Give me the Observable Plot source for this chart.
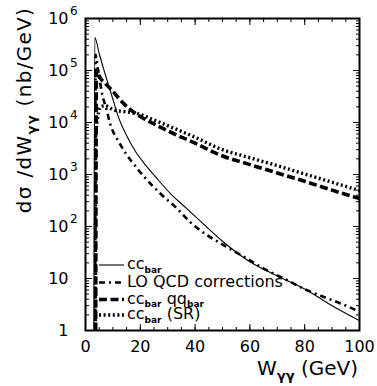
<!DOCTYPE html>
<html><head><meta charset="utf-8">
<script src="https://cdn.jsdelivr.net/npm/d3@7"></script>
<script src="https://cdn.jsdelivr.net/npm/@observablehq/plot@0.6"></script>
<style>html,body{margin:0;padding:0;background:#fff}svg{display:block}</style>
</head><body><div id="chart"></div>
<script>
// ---- data (W_gamma-gamma in GeV, dsigma/dW in nb/GeV) ----
const W_cc = [3.05, 3.4, 5, 7.3, 10, 12.2, 15, 18.2, 22, 25.5, 31, 36, 43, 50, 60, 70, 80, 90, 100];
const V_cc = [1, 4.3e5, 2.1e5, 8.1e4, 2.8e4, 1.2e4, 5.6e3, 2.8e3, 1.5e3, 910, 430, 245, 112, 52, 21, 11.2, 6.3, 3.0, 1.55];

const W_lo = [3.55, 3.7, 4.5, 6.1, 7.5, 9.1, 12.2, 14.6, 17, 21.5, 27.4, 33.5, 38.3, 44.4, 51.7, 59, 65, 72.4, 79, 86, 92, 100];
const V_lo = [1, 2e5, 1.1e5, 3.5e4, 1.9e4, 9.1e3, 4.2e3, 2.6e3, 1.74e3, 890, 427, 219, 120, 68, 40, 24, 15.5, 10, 6.6, 4.6, 3.5, 2.3];

const W_qq = [3.7, 4.0, 4.4, 5.0, 7.3, 10, 12.2, 15.2, 19.5, 24, 30, 40, 49.3, 60, 70, 80, 90, 100];
const V_qq = [1, 9e4, 1.0e5, 7.9e4, 5.6e4, 4.0e4, 2.9e4, 2.0e4, 1.35e4, 1.0e4, 6.9e3, 4.0e3, 2.35e3, 1.55e3, 1.07e3, 740, 500, 345];

const W_sr = [3.6, 3.7, 4.5, 5.5, 7.0, 10.3, 15, 19, 25, 30, 40, 49.3, 60, 70, 80, 90, 100];
const V_sr = [1, 5e3, 1.3e4, 2.0e4, 2.1e4, 1.75e4, 1.6e4, 1.48e4, 1.12e4, 8.7e3, 5.2e3, 3.1e3, 2.1e3, 1.48e3, 1.02e3, 710, 490];

const xMajor = [0, 20, 40, 60, 80, 100];
const xMinor = d3.range(0, 101, 5);
const yMajor = [1, 10, 100, 1e3, 1e4, 1e5, 1e6];
const yMinor = d3.range(0, 6).flatMap(e => d3.range(2, 10).map(m => m * 10 ** e));

const legendItems = [
  {key: "cc", parts: [["cc"], ["bar", "sub"]]},
  {key: "lo", parts: [["LO QCD corrections"]]},
  {key: "qq", parts: [["cc"], ["bar", "sub"], [" qq"], ["bar", "sub"]]},
  {key: "sr", parts: [["cc"], ["bar", "sub"], [" (SR)"]]}
];

const styles = {
  cc: {strokeWidth: 1.1, dash: null},
  lo: {strokeWidth: 2.6, dash: "6,4,2,4"},
  qq: {strokeWidth: 3.6, dash: "8,3.5"},
  sr: {strokeWidth: 3.4, dash: "2,2.6"}
};

const rows = (W, V, key) => W.map((w, i) => ({W: w, V: V[i], key}));
const line = (W, V, key) => Plot.lineY(rows(W, V, key), {
  x: "W", y: "V", stroke: "#000", strokeWidth: styles[key].strokeWidth,
  strokeDasharray: styles[key].dash, strokeLinecap: "butt", strokeLinejoin: "round",
  curve: "monotone-x", clip: true
});

// inward ticks: direction given by the opposite anchor, placed on the frame edge
const inTicksX = (ticks, edge, size) => Plot.axisX({
  ticks, anchor: edge === "bottom" ? "top" : "bottom", frameAnchor: edge,
  tickSize: size, fill: "none", label: null, strokeLinecap: "butt"
});
const inTicksY = (ticks, edge, size) => Plot.axisY({
  ticks, anchor: edge === "left" ? "right" : "left", frameAnchor: edge,
  tickSize: size, fill: "none", label: null, strokeLinecap: "butt"
});

const chart = Plot.plot({
  width: 377, height: 386,
  marginLeft: 85, marginRight: 18, marginTop: 18, marginBottom: 56,
  style: {fontFamily: "'DejaVu Sans', sans-serif", fontSize: "16px", color: "#000", background: "#fff", overflow: "visible"},
  x: {domain: [0, 100]},
  y: {type: "log", domain: [1, 1e6]},
  marks: [
    line(W_cc, V_cc, "cc"),
    line(W_lo, V_lo, "lo"),
    line(W_qq, V_qq, "qq"),
    line(W_sr, V_sr, "sr"),
    inTicksX(xMinor, "bottom", 4),
    inTicksX(xMajor, "bottom", 7),
    inTicksX(xMinor, "top", 4),
    inTicksX(xMajor, "top", 7),
    inTicksY(yMinor, "left", 3),
    inTicksY(yMajor, "left", 6),
    inTicksY(yMinor, "right", 3),
    inTicksY(yMajor, "right", 6),
    Plot.axisX({ticks: xMajor, anchor: "bottom", tickSize: 0, tickPadding: 10, label: null, fontSize: 16}),
    Plot.axisY({ticks: yMajor, anchor: "left", tickSize: 0, tickPadding: 17, label: null, fontSize: 16,
      tickFormat: d => d >= 100 ? "10" : String(d)}),
    Plot.axisY({ticks: yMajor.filter(d => d >= 100), anchor: "left", tickSize: 0, tickPadding: 15.5,
      textAnchor: "start", dy: -7, fontSize: 12, label: null,
      tickFormat: d => String(Math.round(Math.log10(d)))}),
    Plot.frame({stroke: "#000", strokeWidth: 2})
  ]
});
document.getElementById("chart").appendChild(chart);

// ---- text with subscripts ----
function richText(sel, parts, subSize, subShift, subBold) {
  let shift = 0;
  for (const [s, type] of parts) {
    const t = sel.append("tspan").text(s);
    if (type === "sub") {
      t.attr("font-size", subSize).attr("dy", subShift - shift);
      if (subBold) t.attr("font-weight", "bold");
      shift = subShift;
    } else {
      t.attr("dy", -shift);
      shift = 0;
    }
  }
}

const svg = d3.select(chart);
const fontFam = "'DejaVu Sans', sans-serif";

// y label
const yl = svg.append("text")
  .attr("transform", "translate(31,110) rotate(-90)")
  .attr("text-anchor", "middle").attr("font-family", fontFam)
  .attr("font-size", 20).attr("letter-spacing", 1.3).attr("fill", "#000");
richText(yl, [["dσ /dW"], ["γγ", "sub"], [" (nb/GeV)"]], 13, 5, true);

// x label
const xl = svg.append("text")
  .attr("x", 358).attr("y", 375)
  .attr("text-anchor", "end").attr("font-family", fontFam)
  .attr("font-size", 20).attr("fill", "#000");
richText(xl, [["W"], ["γγ", "sub"], [" (GeV)"]], 13, 5, true);

// legend
const legY = [265, 282.5, 299.5, 315];
const lg = svg.append("g").attr("font-family", fontFam).attr("font-size", 16)
  .attr("fill", "#000").attr("text-anchor", "start");
legendItems.forEach((it, i) => {
  const st = styles[it.key];
  lg.append("line").attr("x1", 99).attr("x2", 124).attr("y1", legY[i]).attr("y2", legY[i])
    .attr("stroke", "#000").attr("stroke-width", st.strokeWidth)
    .attr("stroke-dasharray", st.dash);
  const t = lg.append("text").attr("x", 127).attr("y", legY[i] + 4).attr("text-anchor", "start");
  richText(t, it.parts, 9, 3.5, true);
});
</script>
</body></html>
